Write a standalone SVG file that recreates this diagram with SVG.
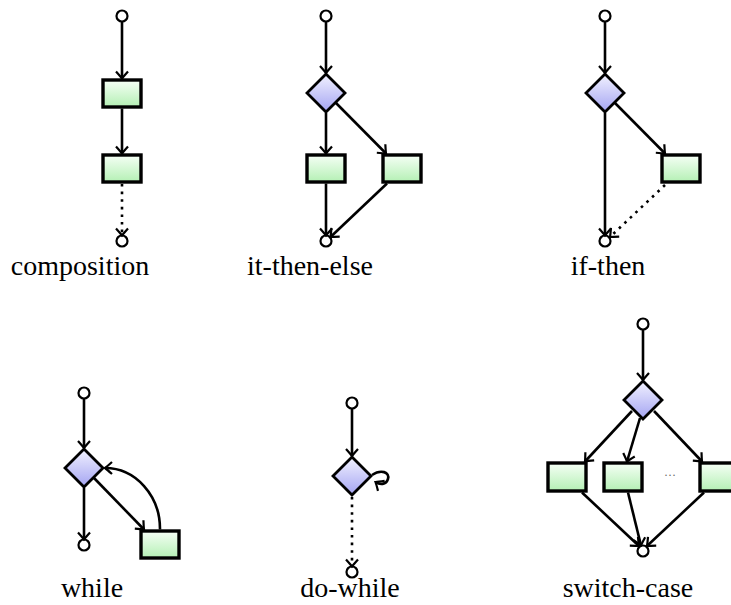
<svg xmlns="http://www.w3.org/2000/svg" width="731" height="605" viewBox="0 0 731 605">
  <style>
    .box { fill: url(#gBox); stroke: #000; stroke-width: 3.4; }
    .dec { fill: url(#gDec); stroke: #000; stroke-width: 2.8; stroke-linejoin: miter; }
    .term { fill: #fff; stroke: #000; stroke-width: 2.2; }
    .edge { fill: none; stroke: #000; stroke-width: 2.6; marker-end: url(#arr); }
    .dot { stroke-dasharray: 2.6 5; }
    .lbl { font-family: "Liberation Serif", "DejaVu Serif", serif; font-size: 28px; fill: #000; text-anchor: middle; }
  </style>
  <defs>
    <linearGradient id="gBox" x1="0" y1="0" x2="0" y2="1">
      <stop offset="0" stop-color="#f6fff6"/>
      <stop offset="1" stop-color="#b4f0b4"/>
    </linearGradient>
    <linearGradient id="gDec" x1="0" y1="0" x2="0" y2="1">
      <stop offset="0" stop-color="#f2f2ff"/>
      <stop offset="1" stop-color="#a4a4f2"/>
    </linearGradient>
    <marker id="arr" viewBox="-9 -8 11 16" markerWidth="11" markerHeight="16" refX="0" refY="0" orient="auto" markerUnits="userSpaceOnUse">
      <path d="M-7,-6 Q-2,-1.5 0,0 Q-2,1.5 -7,6" fill="none" stroke="#000" stroke-width="2.2"/>
    </marker>
  </defs>

  <!-- composition -->
  <g id="composition">
    <g id="comp-start"><circle class="term" cx="122" cy="16" r="5.5"/></g>
    <g id="comp-s1"><rect class="box" x="103" y="80" width="38" height="27"/></g>
    <g id="comp-s2"><rect class="box" x="103" y="155" width="38" height="27"/></g>
    <g id="comp-end"><circle class="term" cx="122" cy="241" r="5.5"/></g>
    <g id="comp-edges">
      <path class="edge" d="M122,21.5 V78.5"/>
      <path class="edge" d="M122,108.5 V153.5"/>
      <path class="edge dot" d="M122,184 V235.5"/>
    </g>
    <text class="lbl" x="80" y="275">composition</text>
  </g>

  <!-- it-then-else -->
  <g id="ite">
    <g id="ite-start"><circle class="term" cx="326" cy="16" r="5.5"/></g>
    <g id="ite-cond"><polygon class="dec" points="326,74 345,93 326,112 307,93"/></g>
    <g id="ite-then"><rect class="box" x="307" y="155" width="38" height="27"/></g>
    <g id="ite-else"><rect class="box" x="383" y="155" width="38" height="27"/></g>
    <g id="ite-end"><circle class="term" cx="326" cy="241" r="5.5"/></g>
    <g id="ite-edges">
      <path class="edge" d="M326,21.5 V73"/>
      <path class="edge" d="M326,113 V153.5"/>
      <path class="edge" d="M336,103 L386,153.5"/>
      <path class="edge" d="M326,183.5 V235.5"/>
      <path class="edge" d="M387,183.5 L330.5,237"/>
    </g>
    <text class="lbl" x="310" y="275">it-then-else</text>
  </g>

  <!-- if-then -->
  <g id="ift">
    <g id="ift-start"><circle class="term" cx="605" cy="16" r="5.5"/></g>
    <g id="ift-cond"><polygon class="dec" points="605,74 624,93 605,112 586,93"/></g>
    <g id="ift-then"><rect class="box" x="662" y="155" width="38" height="27"/></g>
    <g id="ift-end"><circle class="term" cx="605" cy="241" r="5.5"/></g>
    <g id="ift-edges">
      <path class="edge" d="M605,21.5 V73"/>
      <path class="edge" d="M605,113 V235.5"/>
      <path class="edge" d="M615,103 L665,153.5"/>
      <path class="edge dot" d="M665,185 L610,237"/>
    </g>
    <text class="lbl" x="608" y="275">if-then</text>
  </g>

  <!-- while -->
  <g id="while">
    <g id="wh-start"><circle class="term" cx="84" cy="393" r="5.5"/></g>
    <g id="wh-cond"><polygon class="dec" points="84,449 103,468 84,487 65,468"/></g>
    <g id="wh-body"><rect class="box" x="141" y="531" width="38" height="27"/></g>
    <g id="wh-end"><circle class="term" cx="84" cy="545" r="5.5"/></g>
    <g id="wh-edges">
      <path class="edge" d="M84,398.5 V448"/>
      <path class="edge" d="M84,488 V539.5"/>
      <path class="edge" d="M94,478 L144,529.5"/>
      <path class="edge" d="M160,529.5 A55,61 0 0 0 105,468"/>
    </g>
    <text class="lbl" x="92" y="597">while</text>
  </g>

  <!-- do-while -->
  <g id="dowhile">
    <g id="dw-start"><circle class="term" cx="352" cy="403" r="5.5"/></g>
    <g id="dw-cond"><polygon class="dec" points="352,457 371,476 352,495 333,476"/></g>
    <g id="dw-end"><circle class="term" cx="352" cy="572" r="5.5"/></g>
    <g id="dw-edges">
      <path class="edge" d="M352,408.5 V456"/>
      <path class="edge" d="M372,475 C381,469 390,472 388,479 C386,485 380,485 375.5,482"/>
      <path class="edge dot" d="M352,497 V566.5"/>
    </g>
    <text class="lbl" x="350" y="597">do-while</text>
  </g>

  <!-- switch-case -->
  <g id="switch">
    <g id="sw-start"><circle class="term" cx="643" cy="324" r="5.5"/></g>
    <g id="sw-cond"><polygon class="dec" points="643,381 662,400 643,419 624,400"/></g>
    <g id="sw-case1"><rect class="box" x="548" y="463" width="38" height="28"/></g>
    <g id="sw-case2"><rect class="box" x="604" y="463" width="38" height="28"/></g>
    <g id="sw-casen"><rect class="box" x="700" y="463" width="38" height="28"/></g>
    <g id="sw-end"><circle class="term" cx="643" cy="551" r="5.5"/></g>
    <text x="670" y="479" font-family="Liberation Serif, serif" font-size="12" fill="#666" text-anchor="middle">···</text>
    <g id="sw-edges">
      <path class="edge" d="M643,329.5 V380"/>
      <path class="edge" d="M632,411 L585,461.5"/>
      <path class="edge" d="M640,418 L627,461.5"/>
      <path class="edge" d="M654,411 L702,461.5"/>
      <path class="edge" d="M582,492.5 L639,546"/>
      <path class="edge" d="M628,492.5 L641,545.5"/>
      <path class="edge" d="M704,492.5 L647,546"/>
    </g>
    <text class="lbl" x="628" y="597">switch-case</text>
  </g>
</svg>
